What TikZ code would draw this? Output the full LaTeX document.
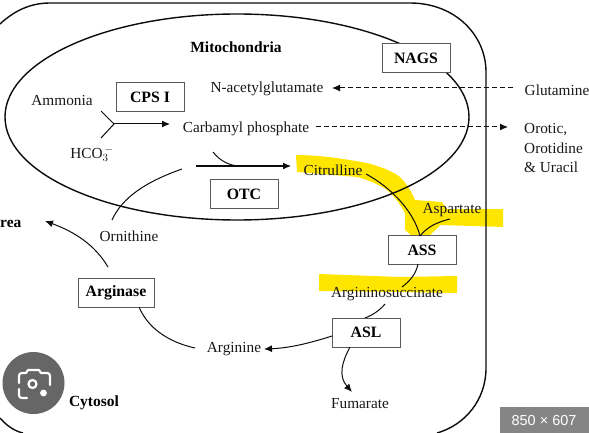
\documentclass[tikz,border=0pt]{standalone}
\usepackage{fontspec}
\setmainfont{Liberation Serif}
\setsansfont{Liberation Sans}
\usetikzlibrary{arrows.meta}
\definecolor{hl}{HTML}{FFE600}
\definecolor{lensgray}{HTML}{666666}
\definecolor{badge}{HTML}{858585}
\tikzset{
  x=1pt,y=-1pt,
  lbl/.style={inner sep=0pt,font=\fontsize{15.3}{17}\selectfont,text=black!90},
  bold/.style={inner sep=0pt,font=\fontsize{15.5}{17}\selectfont\bfseries},
  enzyme/.style={draw=black!65,line width=1pt,fill=white,minimum width=68pt,minimum height=29pt,inner sep=0pt,font=\fontsize{15.8}{17}\selectfont\bfseries},
  wall/.style={line width=1.4pt,black!95},
  conn/.style={line width=1pt,black!95},
  arr/.style={conn,-{Latex[length=8pt,width=7pt]}},
  dasharr/.style={conn,dash pattern=on 5pt off 3pt,-{Latex[length=8pt,width=7pt]}}
}
\begin{document}
\begin{tikzpicture}
\useasboundingbox (0,0) rectangle (589,433);
\fill[white] (0,0) rectangle (589,433);
% highlights
\fill[hl] (296,155) .. controls (320,155) and (345,159) .. (367,163)
  .. controls (382,167) and (392,171) .. (400,177)
  .. controls (408,185) and (412,193) .. (415,200) -- (442,202) -- (447,209) -- (503,209) -- (503,227) -- (440,225)
  .. controls (436,230) and (432,233) .. (430,235) -- (413,237) -- (405,230) -- (405,213)
  .. controls (400,204) and (395,197) .. (387,190)
  .. controls (378,184) and (368,180) .. (357,177)
  -- (297,172) -- cycle;
\fill[hl] (319,274) -- (400,277) -- (457,276) -- (457,293) -- (400,292) -- (319,291) -- cycle;
% cell walls
\draw[wall] (0,24) .. controls (14,11) and (30,3) .. (50,3) -- (410,3)
  .. controls (455,3) and (486,35) .. (486,72) -- (486,368)
  .. controls (486,400) and (465,425) .. (437,433);
\draw[wall] (0,418) .. controls (6,425) and (14,431) .. (23,433);
\draw[wall] (237,117) ellipse [x radius=232, y radius=103];
% nodes
\node[bold] (mito) at (236,47) {Mitochondria};
\node[enzyme] (nags) at (416,58.5) {NAGS};
\node[enzyme] (cps) at (150,97.5) {CPS I};
\node[enzyme] (otc) at (244,194) {OTC};
\node[enzyme] (ass) at (422,250) {ASS};
\node[enzyme] (asl) at (366,332.5) {ASL};
\node[enzyme,minimum width=76pt] (argase) at (116,292.5) {Arginase};
\node[lbl] (amm) at (62,101) {Ammonia};
\node[lbl] (hco) at (92,154) {HCO$_3^{\,-}$};
\node[lbl] (nag) at (267,88.5) {N-acetylglutamate};
\node[lbl] (carb) at (246,128.5) {Carbamyl phosphate};
\node[lbl] (cit) at (333,170.5) {Citrulline};
\node[lbl] (asp) at (452,210) {Aspartate};
\node[lbl] (asu) at (387,294.5) {Argininosuccinate};
\node[lbl] (orn) at (129,236.5) {Ornithine};
\node[lbl] (arg) at (234,349) {Arginine};
\node[lbl] (fum) at (360,404) {Fumarate};
\node[lbl] (gln) at (557,90) {Glutamine};
\node[lbl,anchor=west] (oro) at (524,130) {Orotic,};
\node[lbl,anchor=west] (orod) at (524,148) {Orotidine};
\node[lbl,anchor=west] (ura) at (524,167) {\&\ Uracil};
\node[bold,anchor=west] (urea) at (0,224) {rea};
\node[bold] (cyt) at (94,403) {Cytosol};
% connector junctions
\coordinate (y1) at (101,111);
\coordinate (y2) at (101,138);
\coordinate (yj) at (114,124);
\coordinate (ye) at (170,124);
\coordinate (o1) at (196,166);
\coordinate (o2) at (291,166);
\coordinate (o3) at (213,152);
\coordinate (o4) at (240,166);
\coordinate (o5) at (182,169);
\coordinate (o6) at (112,220);
\coordinate (u1) at (108,267);
\coordinate (u2) at (45,221);
\coordinate (a1) at (139,307);
\coordinate (a2) at (195,348);
\coordinate (asl1) at (332,336);
\coordinate (aa) at (264,349);
\coordinate (f1) at (350,347);
\coordinate (f2) at (352,392);
\coordinate (s1) at (385,304);
\coordinate (s2) at (365,318);
\coordinate (s3) at (418,264);
\coordinate (s4) at (402,287);
\coordinate (c1) at (366,174);
\coordinate (d1) at (450,219);
\coordinate (j) at (420,236);
\coordinate (g1) at (513,88);
\coordinate (g2) at (332,88);
\coordinate (p1) at (316,127);
\coordinate (p2) at (508,127);
\draw[conn] (y1) -- (yj) -- (y2);
\draw[arr] (yj) -- (ye);
\draw[arr] (o1) -- (o2);
\draw[conn] (o3) .. controls (220,161) and (230,166) .. (o4);
\draw[conn] (o5) .. controls (145,182) and (122,198) .. (o6);
\draw[arr] (u1) .. controls (95,245) and (75,232) .. (u2);
\draw[conn] (a1) .. controls (148,328) and (168,342) .. (a2);
\draw[arr] (asl1) .. controls (310,343) and (290,348) .. (aa);
\draw[arr] (f1) .. controls (342,362) and (338,376) .. (f2);
\draw[conn] (s1) .. controls (380,310) and (373,315) .. (s2);
\draw[conn] (s3) .. controls (416,274) and (410,281) .. (s4);
\draw[conn] (c1) .. controls (392,188) and (414,212) .. (j);
\draw[conn] (d1) .. controls (438,222) and (428,226) .. (j);
\draw[dasharr] (g1) -- (g2);
\draw[dasharr] (p1) -- (p2);
% overlays
\fill[lensgray] (33.5,383) circle (31);
\draw[white,line width=2.2pt,line cap=round,line join=round] (27,398) -- (22,398) .. controls (20,398) and (19,397) .. (19,395) -- (19,389)
 (19,383) -- (19,376) .. controls (19,374) and (20,373) .. (22,373) -- (26,373) -- (28,370) -- (39,370) -- (41,373) -- (47,373) .. controls (49,373) and (50,374) .. (50,376) -- (50,385);
\draw[white,line width=2.2pt] (32.5,384) circle (4);
\fill[white] (43.5,393) circle (3.4);
\fill[badge] (500,407) rectangle (589,433);
\node[inner sep=0pt,text=white,font=\sffamily\fontsize{14.5}{16}\selectfont] (size) at (544,421) {850 × 607};
\end{tikzpicture}
\end{document}
